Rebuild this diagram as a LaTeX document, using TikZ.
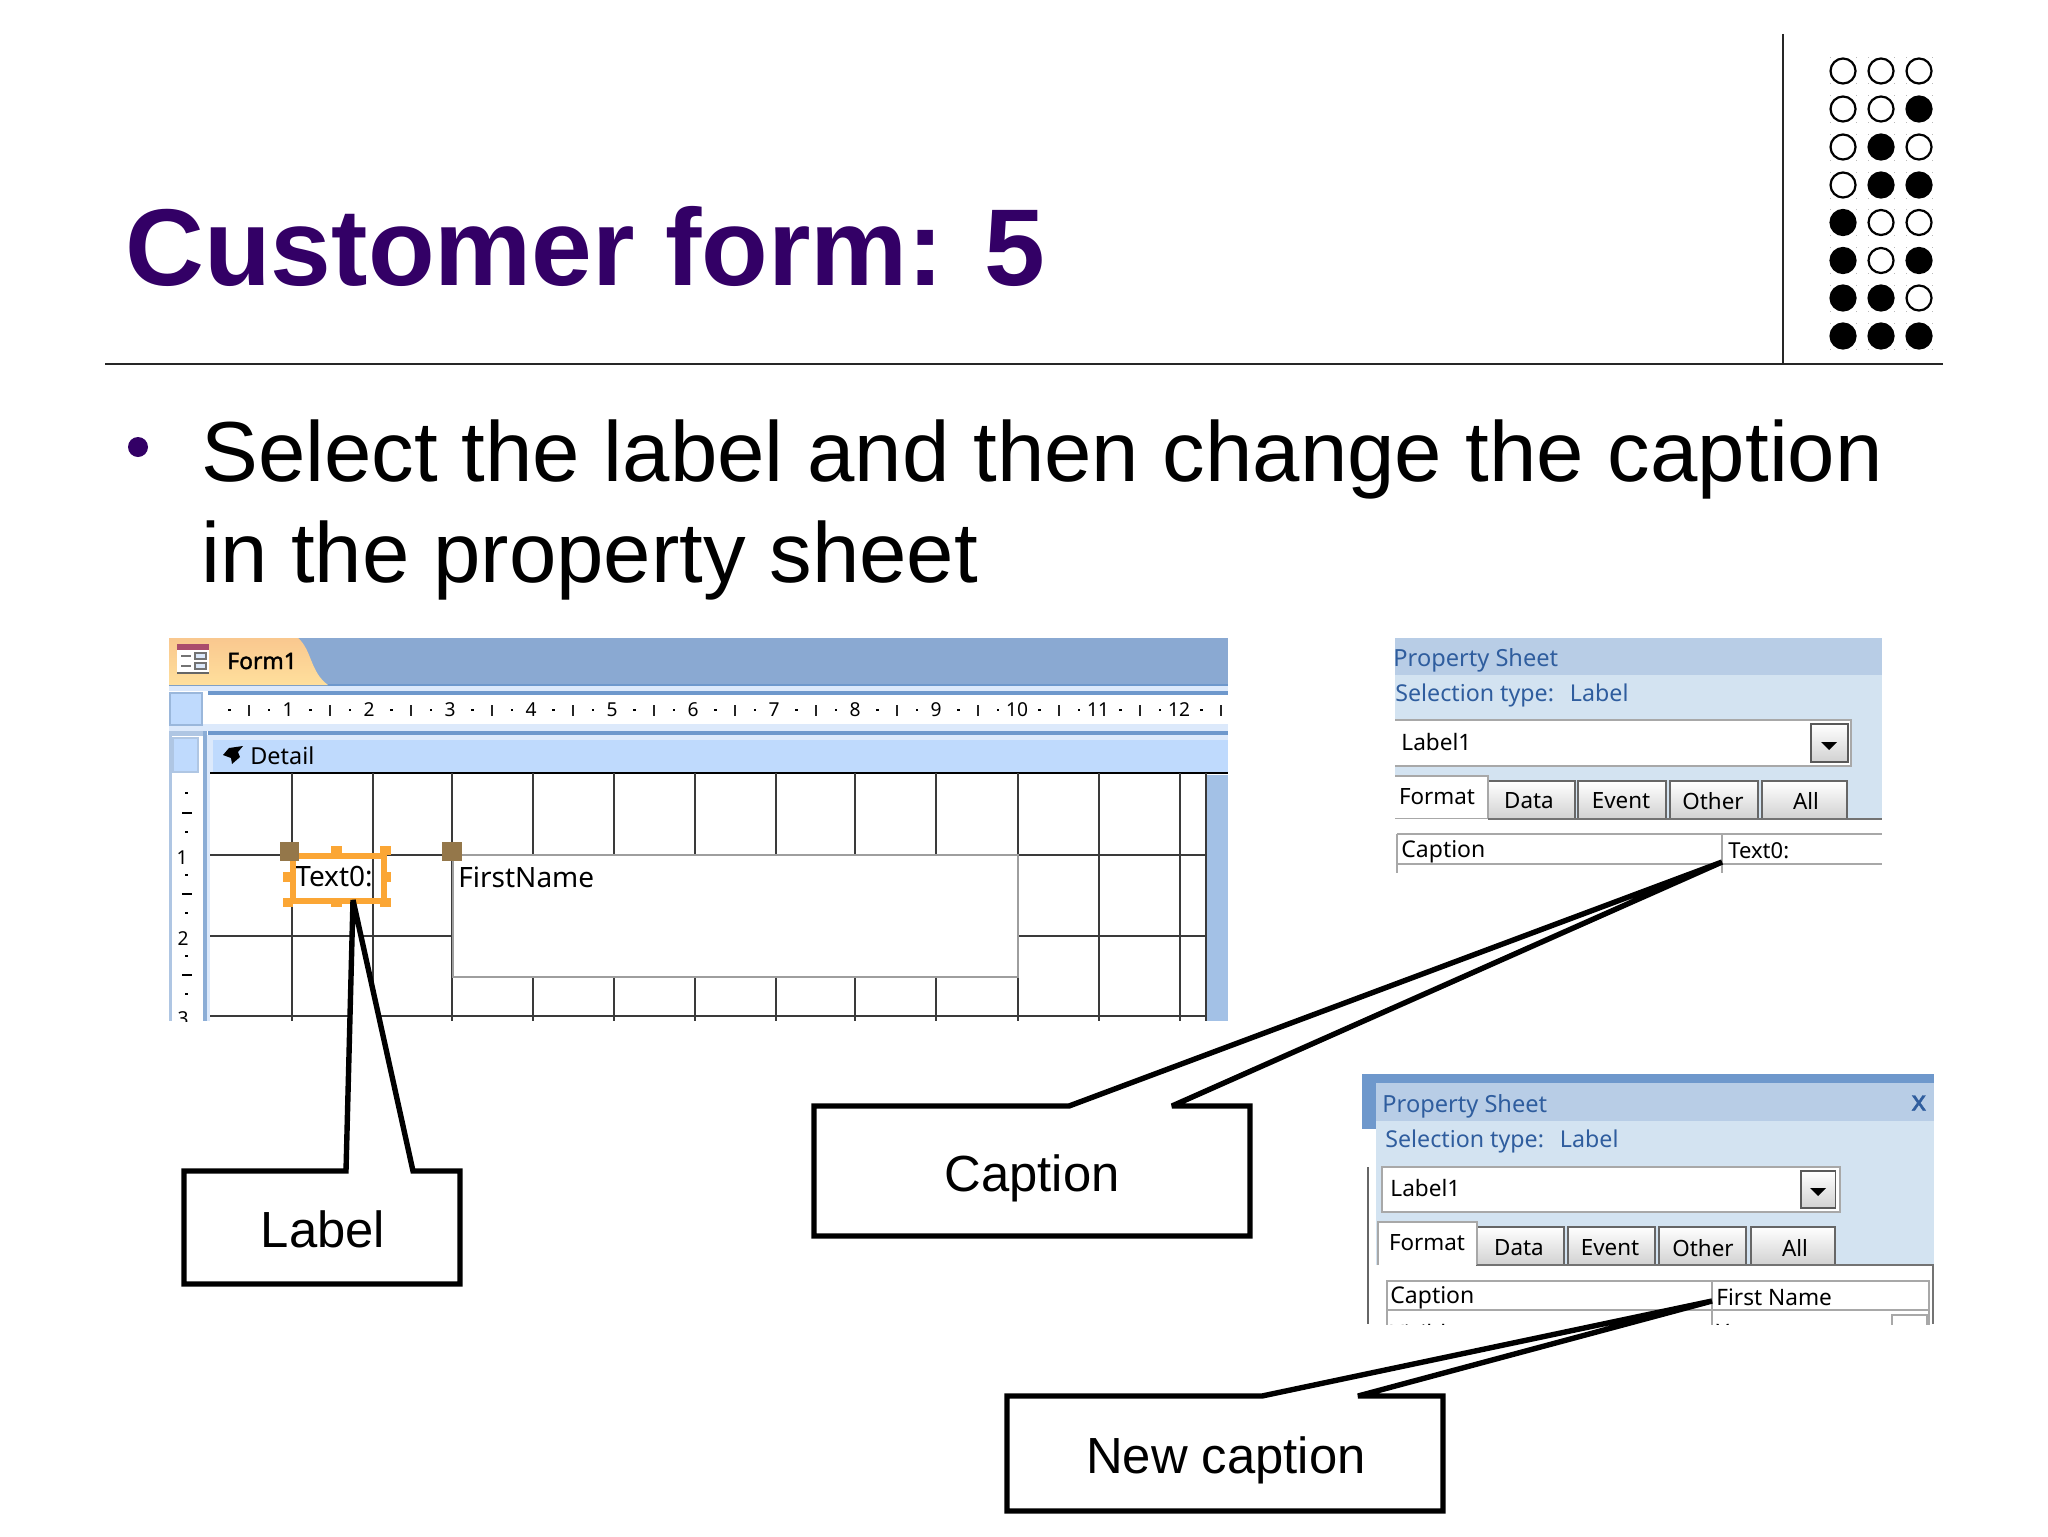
\documentclass[tikz,border=0pt]{standalone}
\usepackage{fontspec}
\usepackage{graphicx}
\setmainfont{Liberation Sans}
\newfontfamily\scrfont{Noto Sans}
\newfontfamily\scrbold[FakeBold=1.6]{Noto Sans}
\definecolor{titlec}{HTML}{330066}
\definecolor{bandc}{HTML}{8AA9D2}
\definecolor{framec}{HTML}{6E98CC}
\definecolor{lightc}{HTML}{DCE9FB}
\definecolor{detailc}{HTML}{BFDAFD}
\definecolor{stripc}{HTML}{A3C1E6}
\definecolor{gridc}{HTML}{3A3A3A}
\definecolor{handlec}{HTML}{FBA635}
\definecolor{brownc}{HTML}{94774A}
\definecolor{pshead}{HTML}{B8CDE6}
\definecolor{psbody}{HTML}{D3E3F1}
\definecolor{pstext}{HTML}{2F5D9E}
\definecolor{psline}{HTML}{A8A8A8}
\definecolor{tabtop}{HTML}{F9C88F}
\definecolor{tabmid}{HTML}{FBB25A}
\definecolor{tabbot}{HTML}{FFDF9C}
\tikzset{
  x=0.5pt,y=-0.5pt,
  calloutshape/.style={draw=black,line width=2.7pt,fill=white,miter limit=2},
  calltext/.style={font=\fontsize{25.4}{30}\selectfont,inner sep=0},
  scr/.style={font=\scrfont\fontsize{11.3}{13}\selectfont,inner sep=0,anchor=west,text=black},
  bigscr/.style={font=\scrfont\fontsize{14}{16}\selectfont,inner sep=0,anchor=west,text=black},
  pst/.style={font=\scrfont\fontsize{11.6}{14}\selectfont,inner sep=0,anchor=west,text=pstext},
  pshd/.style={font=\scrfont\fontsize{11.8}{14}\selectfont,inner sep=0,anchor=west,text=pstext},
  tabt/.style={font=\scrfont\fontsize{11.2}{13}\selectfont,inner sep=0,text=black},
  tabshape/.style={draw=black!60,line width=0.8pt,top color=white,bottom color=black!18},
  gridl/.style={draw=gridc,line width=0.85pt},
  psl/.style={draw=psline,line width=0.7pt},
  hand/.style={fill=handlec},
  rulernum/.style={font=\scrfont\fontsize{9.6}{11}\selectfont,inner sep=0,text=black},
  ring/.style={draw=black,line width=1.1pt,fill=white},
  solid dot/.style={draw=black,line width=1.1pt,fill=black}
}
\begin{document}
\begin{tikzpicture}
\useasboundingbox (0,0) rectangle (2048,1536);
\fill[white] (0,0) rectangle (2048,1536);
% header rules
\coordinate (vt) at (1783,34);\coordinate (vb) at (1783,364);
\coordinate (hl) at (105,364);\coordinate (hr) at (1943,364);
\draw[black!85,line width=1.2pt] (vt)--(vb);
\draw[black!85,line width=1.2pt] (hl)--(hr);
% circles
\foreach \row/\a/\b/\c in {71/0/0/0,109/0/0/1,147/0/1/0,185/0/1/1,222.5/1/0/0,260.5/1/0/1,298/1/1/0,336/1/1/1}{
  \foreach \cx/\v in {1843/\a,1881/\b,1919/\c}{
    \ifnum\v=1 \draw[solid dot] (\cx,\row) circle[radius=12.5];
    \else \draw[ring] (\cx,\row) circle[radius=12.5];\fi
    \foreach \dx/\dy in {-13/-13,13/-13,-13/13,13/13}
      \fill[black!28] (\cx+\dx-.5,\row+\dy-.5) rectangle (\cx+\dx+.5,\row+\dy+.5);
  }
}
% title and body
\node[anchor=base west,inner sep=0,text=titlec,font=\bfseries\fontsize{54.6}{60}\selectfont] (title) at (125,285) {Customer form: 5};
\fill[titlec] (138,447) circle[radius=10];
\node[anchor=base west,inner sep=0,font=\fontsize{42.6}{50}\selectfont] (body1) at (201,481) {Select the label and then change the caption};
\node[anchor=base west,inner sep=0,font=\fontsize{42.6}{50}\selectfont] (body2) at (201,582) {in the property sheet};

% ---------- Form window ----------
\fill[bandc] (169,638) rectangle (1228,685);
\draw[framec,line width=.8pt] (169,685)--(1228,685);
\shade[top color=tabtop,middle color=tabmid,bottom color=tabbot] (169,638)--(298,638) .. controls (312,650) and (310,672) .. (328,685)--(169,685)--cycle;
\fill[white] (177,646) rectangle (209,674);
\fill[black!60] (177,672) rectangle (209,674);
\fill[purple!70!black!70] (177,644) rectangle (209,650);
\draw[black!55,line width=.6pt] (181,656)--(191,656) (181,666)--(191,666);
\draw[black!55,line width=.6pt,fill=lightc] (195,653) rectangle (206,659);
\draw[black!55,line width=.6pt,fill=lightc] (195,663) rectangle (206,669);
\node[anchor=west,inner sep=0,font=\scrbold\fontsize{11.4}{13}\selectfont] (formt) at (227,661) {Form1};
% ruler strip
\fill[lightc] (169,686) rectangle (1228,691);
\fill[framec] (208,691) rectangle (1228,695);
\fill[white] (208,695) rectangle (1228,724);
\fill[lightc] (169,724) rectangle (1228,731);
\draw[framec!70,line width=.8pt,fill=detailc] (170,693) rectangle (202,725);
\fill[framec] (208,731) rectangle (1228,735);
\fill[lightc] (208,735) rectangle (1228,740);
\fill[detailc] (213,740) rectangle (1228,773);
% vertical ruler column
\fill[framec!55] (169,731) rectangle (172,1021);
\fill[framec!80] (203,731) rectangle (207,1021);
\fill[lightc] (207,735) rectangle (213,773);
\fill[lightc] (207,773) rectangle (210,1021);
\fill[framec!55] (172,731) rectangle (203,736);
\draw[framec!55,line width=.8pt,fill=detailc] (173,738) rectangle (198,772);
\draw[black,line width=.9pt] (210,773)--(1228,773);
\begin{scope}
\clip (208,695) rectangle (1228,724);
\foreach \k in {0,...,12}{
  \pgfmathsetmacro\ux{208+81*\k}
  \ifnum\k>0 \node[rulernum] (rn\k) at (\ux-1,710) {\k};\fi
  \fill[black] (\ux+20,708.5) rectangle (\ux+22.5,711);
  \fill[black] (\ux+59.5,708.5) rectangle (\ux+62,711);
  \fill[black!85] (\ux+40,704.5) rectangle (\ux+42,716);
}
\end{scope}
\fill[black] (243,746)--(229,748)--(223,755)--(231,758)--(232,764)--(240,757)--(238,752)--cycle;
\node[scr,font=\scrfont\fontsize{11.7}{13}\selectfont] (detail) at (250,756) {Detail};
% grid
\foreach \gx in {292,373,452,533,614,695,776,855,936,1018,1099,1180,1206}
  \draw[gridl] (\gx,773)--(\gx,1021);
\foreach \gy in {855,936,1016}
  \draw[gridl] (210,\gy)--(1206,\gy);
\fill[stripc] (1207,775) rectangle (1228,1021);
% text box FirstName
\draw[draw=black!38,line width=1pt,fill=white] (453,855) rectangle (1018,977);
\node[bigscr] (fn) at (458,877) {FirstName};
% vertical ruler marks
\begin{scope}
\clip (172,775) rectangle (203,1021);
\foreach \ry in {793,832,875,913,956,994} \fill[black] (185,\ry-1.2) rectangle (187.5,\ry+1.2);
\foreach \ry in {813,894,975} \fill[black] (182,\ry-1.2) rectangle (192,\ry+1.2);
\node[rulernum] (v1) at (182,858) {1};
\node[rulernum] (v2) at (183,939) {2};
\node[rulernum] (v3) at (183,1019) {3};
\end{scope}
% selected label
\fill[white] (293,856) rectangle (383,900);
\draw[gridl] (373,856)--(373,900);
\node[bigscr] (t0) at (295,877) {Text0:};
\draw[handlec,line width=3pt] (292.5,855.5) rectangle (383.5,900.5);
\fill[hand] (380,846) rectangle (391,855);
\fill[hand] (283,898) rectangle (293,907);
\fill[hand] (380,898) rectangle (391,907);
\fill[hand] (331,846) rectangle (342,855);
\fill[hand] (331,900) rectangle (342,907);
\fill[hand] (283,872) rectangle (291,882);
\fill[hand] (384,872) rectangle (391,882);
\fill[brownc] (280,842) rectangle (299,861);
\fill[brownc] (442,842) rectangle (462,861);

% ---------- Property sheet 1 ----------
\begin{scope}
\clip (1395,638) rectangle (1882,873);
\fill[pshead] (1395,638) rectangle (1882,675);
\fill[psbody] (1395,675) rectangle (1882,819);
\node[pshd] (p1t) at (1393,660) {Property Sheet};
\node[pst] (p1s) at (1395,695) {Selection type:\hspace{8pt}Label};
\draw[psl,fill=white] (1390,720) rectangle (1851,766);
\node[scr] (p1l) at (1401,742) {Label1};
\draw[draw=black!65,line width=.8pt,top color=white,bottom color=black!18] (1811,724) rectangle (1848,762);
\fill[black] (1821,742)--(1837,742)--(1829,750)--cycle;
\draw[tabshape] (1488,781) rectangle (1575,819);
\draw[tabshape] (1578,781) rectangle (1666,819);
\draw[tabshape] (1670,781) rectangle (1758,819);
\draw[tabshape] (1762,781) rectangle (1847,819);
\draw[psl,fill=white] (1385,776) -- (1488,776) -- (1488,819) -- (1385,819);
\fill[white] (1385,819) rectangle (1882,873);
\draw[draw=black!55,line width=.7pt] (1488,819)--(1882,819);
\node[tabt] (p1f) at (1437,797) {Format};
\node[tabt] (p1d) at (1529,801) {Data};
\node[tabt] (p1e) at (1621,801) {Event};
\node[tabt] (p1o) at (1713,801) {Other};
\node[tabt] (p1a) at (1806,801) {All};
\draw[psl] (1397,834)--(1882,834) (1397,864)--(1882,864) (1397,834)--(1397,873) (1722,834)--(1722,873);
\node[scr,font=\scrfont\fontsize{11.5}{13}\selectfont] (p1c) at (1401,852) {Caption};
\node[scr,font=\scrfont\fontsize{11}{13}\selectfont] (p1v) at (1728,851) {Text0:};
\end{scope}

% ---------- Property sheet 2 ----------
\begin{scope}
\clip (1362,1074) rectangle (1934,1324);
\fill[framec] (1362,1074) rectangle (1934,1083);
\fill[framec] (1362,1083) rectangle (1376,1129);
\draw[black!60,line width=.7pt] (1368,1167)--(1368,1324);
\fill[pshead] (1376,1083) rectangle (1934,1121);
\fill[psbody] (1376,1121) rectangle (1934,1265);
\fill[white] (1376,1265) rectangle (1934,1324);
\node[pshd] (p2t) at (1382,1106) {Property Sheet};
\node[pst,font=\scrbold\fontsize{14}{16}\selectfont] (p2x) at (1911,1103) {x};
\node[pst] (p2s) at (1385,1141) {Selection type:\hspace{8pt}Label};
\draw[psl,fill=white] (1382,1167) rectangle (1840,1212);
\node[scr] (p2l) at (1390,1188) {Label1};
\draw[draw=black!65,line width=.8pt,top color=white,bottom color=black!18] (1801,1171) rectangle (1835.5,1208);
\fill[black] (1810,1188)--(1826,1188)--(1818,1196)--cycle;
\draw[tabshape] (1477,1227) rectangle (1564,1265);
\draw[tabshape] (1568,1227) rectangle (1655,1265);
\draw[tabshape] (1659,1227) rectangle (1746,1265);
\draw[tabshape] (1751,1227) rectangle (1835,1265);
\draw[psl,fill=white] (1378,1265) -- (1378,1222) -- (1477,1222) -- (1477,1265);
\draw[draw=black!55,line width=.7pt] (1477,1265)--(1933,1265)--(1933,1324);
\node[tabt] (p2f) at (1427,1243) {Format};
\node[tabt] (p2d) at (1519,1248) {Data};
\node[tabt] (p2e) at (1610,1248) {Event};
\node[tabt] (p2o) at (1703,1248) {Other};
\node[tabt] (p2a) at (1795,1248) {All};
\draw[psl] (1387,1281) rectangle (1929,1340) (1387,1310)--(1929,1310) (1712,1281)--(1712,1340);
\node[scr,font=\scrfont\fontsize{11.5}{13}\selectfont] (p2c) at (1390,1298) {Caption};
\node[scr] (p2v) at (1716,1297) {First Name};
\node[scr] (p2vis) at (1390,1333) {Visible};
\node[scr] (p2yes) at (1716,1333) {Yes};
\draw[psl] (1892,1315) rectangle (1927,1340);
\end{scope}

% ---------- Callouts ----------
\draw[calloutshape] (184,1171)--(346,1171)--(353,900)--(413,1171)--(460,1171)--(460,1284)--(184,1284)--cycle;
\node[calltext] (labelc) at (323,1229) {Label};
\draw[calloutshape] (814,1106)--(1069,1106)--(1722,862)--(1172,1106)--(1250,1106)--(1250,1236)--(814,1236)--cycle;
\node[calltext] (captionc) at (1032,1178) {Caption};
\draw[calloutshape] (1007,1396)--(1262,1396)--(1712,1301)--(1358,1396)--(1443,1396)--(1443,1511)--(1007,1511)--cycle;
\node[calltext] (newc) at (1226,1460) {New caption};
\end{tikzpicture}
\end{document}
